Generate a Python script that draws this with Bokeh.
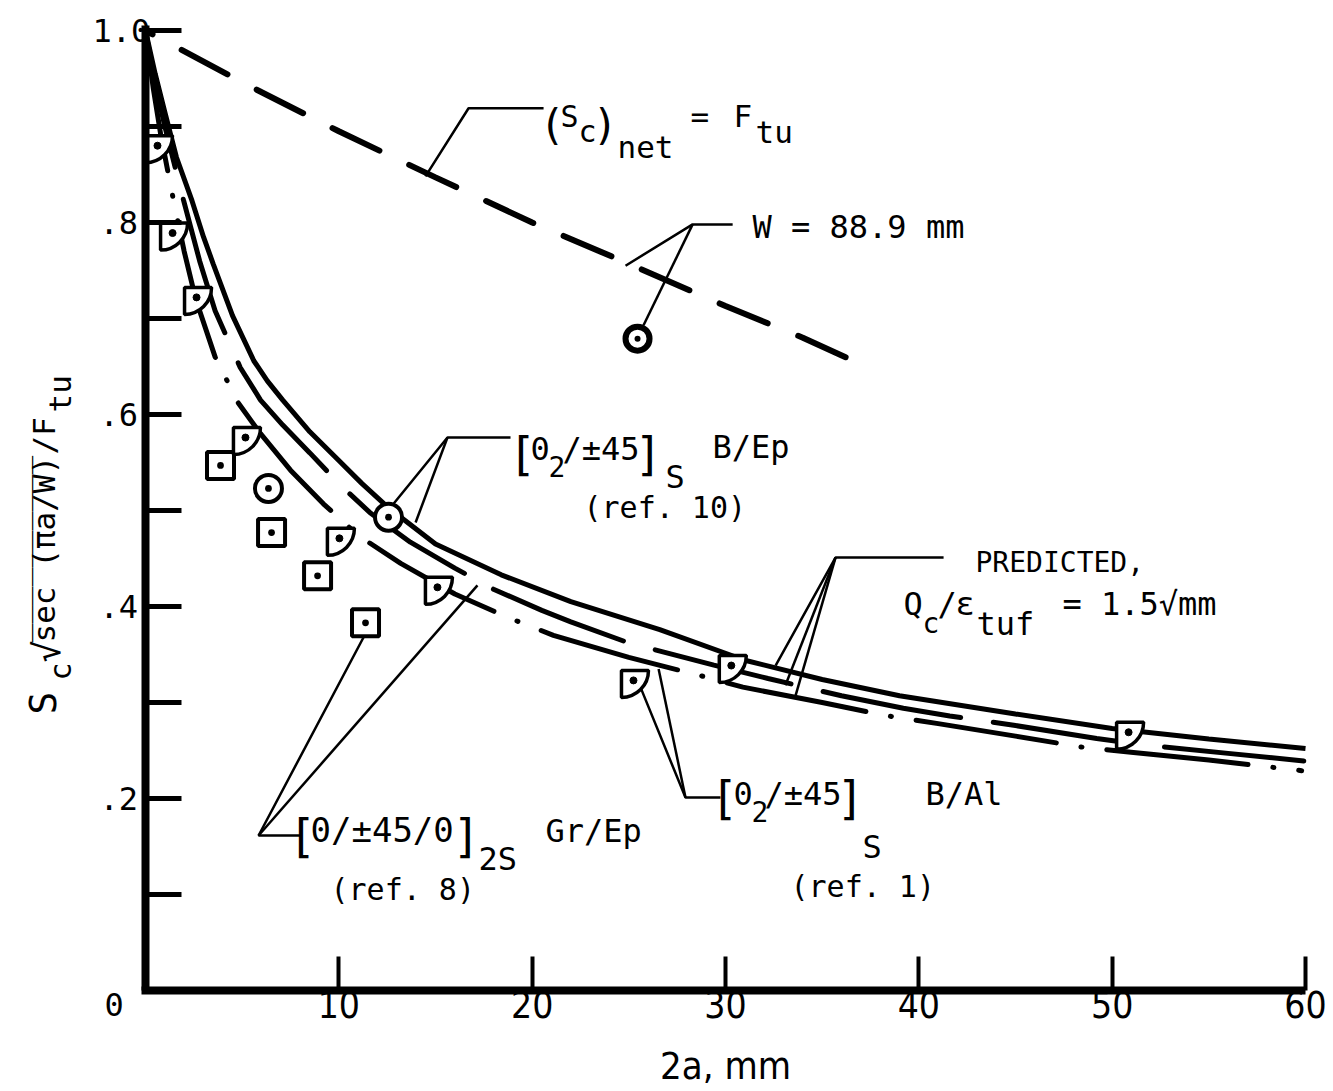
from math import pi
from bokeh.plotting import figure
from bokeh.models import Range1d, FixedTicker, Label, ColumnDataSource
from bokeh.transform import dodge
from bokeh.embed import file_html
from bokeh.resources import INLINE

# ---------------- data ----------------
# net-section line (S_c)net = F_tu, W = 88.9 mm
net_x = [0, 5, 10, 15, 20, 25, 30, 34, 37.6]
net_y = [1.0, 0.946, 0.895, 0.847, 0.800, 0.757, 0.713, 0.680, 0.647]

# predicted curves, Qc/eps_tuf = 1.5 sqrt(mm)
solid_x = [0, 0.5, 1.0, 1.6, 2.4, 3.0, 3.5, 4.5, 5.6, 6.3, 7.1, 8.5, 10, 11.2, 12.5, 15, 18.4, 22, 26.6,
           31, 35, 39, 45, 50, 55, 60]
solid_y = [1.0, 0.955, 0.915, 0.868, 0.823, 0.785, 0.757, 0.703, 0.656, 0.635, 0.615, 0.582, 0.552, 0.528,
           0.504, 0.465, 0.433, 0.405, 0.376, 0.344, 0.324, 0.307, 0.288, 0.273, 0.262, 0.252]
long_x = [0, 0.5, 1.0, 1.97, 2.8, 3.6, 4.9, 5.95, 7.1, 8.5, 10, 11.6, 13.7, 16, 18, 20.5, 22, 25, 29.4,
          32.2, 36, 39.2, 41.6, 45, 49.2, 52, 56, 60]
long_y = [1.0, 0.945, 0.900, 0.823, 0.760, 0.708, 0.649, 0.615, 0.589, 0.560, 0.528, 0.498, 0.467, 0.440,
          0.418, 0.396, 0.384, 0.362, 0.339, 0.325, 0.307, 0.294, 0.286, 0.276, 0.2625, 0.255, 0.247, 0.239]
dd_x = [0, 0.4, 0.8, 1.45, 2.0, 2.6, 3.6, 4.8, 5.95, 7.5, 9.2, 11, 13.2, 16, 18.7, 21.1, 25, 28.7, 30.9,
        35, 38.4, 41, 45, 48.6, 51.1, 55, 59.8]
dd_y = [1.0, 0.940, 0.890, 0.823, 0.770, 0.720, 0.660, 0.612, 0.580, 0.542, 0.507, 0.474, 0.445, 0.413,
        0.389, 0.370, 0.347, 0.328, 0.316, 0.300, 0.286, 0.278, 0.265, 0.253, 0.248, 0.240, 0.229]

# test data
bep_x = [6.36, 12.57]            # [0_2/+-45]_S B/Ep (ref. 10)
bep_y = [0.523, 0.493]
w_x = [25.45]                    # W = 88.9 mm
w_y = [0.679]
grep_x = [3.88, 6.52, 8.90, 11.38]   # [0/+-45/0]_2S Gr/Ep (ref. 8)
grep_y = [0.547, 0.477, 0.432, 0.383]
bal_x = [0.62, 1.40, 2.64, 5.17, 10.03, 15.10, 25.24, 30.30, 50.85]   # [0_2/+-45]_S B/Al (ref. 1)
bal_y = [0.880, 0.789, 0.722, 0.576, 0.471, 0.420, 0.323, 0.3385, 0.269]

# call-out leader lines (data coordinates)
lead_net_x = [14.48, 16.71, 20.59]
lead_net_y = [0.848, 0.919, 0.919]
lead_w_x = [[24.83, 28.30, 30.37], [28.30, 25.76]]
lead_w_y = [[0.755, 0.798, 0.798], [0.798, 0.693]]
lead_bep_x = [[12.83, 15.62, 18.88], [15.62, 13.97]]
lead_bep_y = [[0.507, 0.576, 0.576], [0.576, 0.4875]]
lead_gr_x = [[11.28, 5.85, 8.02], [5.85, 17.17]]
lead_gr_y = [[0.368, 0.1615, 0.1615], [0.1615, 0.422]]
lead_bal_x = [[25.60, 27.93, 29.74], [27.93, 26.54]]
lead_bal_y = [[0.316, 0.201, 0.201], [0.201, 0.335]]
lead_pr_x = [[32.59, 35.69, 41.28], [35.69, 33.10], [35.69, 33.62]]
lead_pr_y = [[0.3385, 0.451, 0.451], [0.451, 0.318], [0.451, 0.307]]

x_ticks = [10, 20, 30, 40, 50, 60]
y_ticks = [0.1, 0.2, 0.3, 0.4, 0.5, 0.6, 0.7, 0.8, 0.9, 1.0]
y_tick_values = [1.0, 0.8, 0.6, 0.4, 0.2, 0.0]
y_tick_texts = ["1.0", ".8", ".6", ".4", ".2", "0"]

# ---------------- figure (frame = whole page, axes placed at x=0 / y=0) ----------------
W, H = 1333, 1091
FL, FT, FW, FH = 145, 30, 1160, 960          # pixel box of the 0..60 x 0..1 data area
XMIN, XMAX = 0.0, 60.0
YMIN, YMAX = 0.0, 1.0
sx = (XMAX - XMIN) / FW
sy = (YMAX - YMIN) / FH
MONO = "DejaVu Sans Mono"
COND = "DejaVu Sans Condensed"

p = figure(width=W, height=H,
           x_range=Range1d(XMIN - FL * sx, XMIN + (W - FL) * sx),
           y_range=Range1d(YMIN - (H - FT - FH) * sy, YMAX + FT * sy),
           output_backend="svg", toolbar_location=None, min_border=0,
           background_fill_color="white", border_fill_color="white", outline_line_color=None)
p.grid.visible = False

xa = p.xaxis[0]
xa.fixed_location = 0
xa.bounds = (-0.2, 60)
xa.ticker = FixedTicker(ticks=x_ticks)
xa.axis_line_width = 8
xa.axis_line_color = "black"
xa.major_tick_in = 34
xa.major_tick_out = 0
xa.major_tick_line_width = 4
xa.minor_tick_line_color = None
xa.major_label_text_font = COND
xa.major_label_text_font_size = "37px"
xa.major_label_standoff = 0
xa.major_label_text_color = "black"

# y axis: every tick drawn as a (minor) tick, labels placed separately
ya = p.yaxis[0]
ya.fixed_location = 0
ya.bounds = (0, 1.005)
ya.ticker = FixedTicker(ticks=[], minor_ticks=y_ticks)
ya.axis_line_width = 8
ya.axis_line_color = "black"
ya.major_tick_line_color = None
ya.minor_tick_in = 36
ya.minor_tick_out = 0
ya.minor_tick_line_width = 5
ya.minor_tick_line_color = "black"


def px2x(px):
    return XMIN + (px - FL) * sx


def py2y(py):
    return YMIN + (FT + FH - py) * sy


def lab(text, px, py, size, font=MONO, angle=0.0, align="left"):
    # px, py: start point of the text on its baseline (page pixels)
    off = 0.36 * size
    if angle == 0.0:
        py -= off
    else:
        px -= off
    p.add_layout(Label(x=px2x(px), y=py2y(py), text=text, text_font=font,
                       text_font_size=f"{size}px", text_align=align,
                       text_baseline="alphabetic", angle=angle, text_color="black"))


# ---------------- curves ----------------
p.line(net_x, net_y, line_width=6, line_color="black", line_dash="52 33",
       line_dash_offset=44, line_cap="round")
p.line(solid_x, solid_y, line_width=5, line_color="black")
p.line(long_x, long_y, line_width=5, line_color="black", line_dash="140 33", line_cap="round")
p.line(dd_x, dd_y, line_width=5, line_color="black", line_dash="142 25 1 25", line_cap="round")

# ---------------- leaders ----------------
p.line(lead_net_x, lead_net_y, line_width=2.5, line_color="black")
p.multi_line(lead_w_x, lead_w_y, line_width=2.5, line_color="black")
p.multi_line(lead_bep_x, lead_bep_y, line_width=2.5, line_color="black")
p.multi_line(lead_gr_x, lead_gr_y, line_width=2.5, line_color="black")
p.multi_line(lead_bal_x, lead_bal_y, line_width=2.5, line_color="black")
p.multi_line(lead_pr_x, lead_pr_y, line_width=2.5, line_color="black")

# ---------------- symbols ----------------
p.scatter(bep_x, bep_y, marker="circle_dot", size=27, line_width=4, line_color="black",
          fill_color="white")
p.scatter(w_x, w_y, marker="circle_dot", size=24, line_width=6, line_color="black",
          fill_color="white")
p.scatter(grep_x, grep_y, marker="square_dot", size=27, line_width=4, line_color="black",
          fill_color="white")
bal_src = ColumnDataSource(dict(x=bal_x, y=bal_y))
p.wedge(x=dodge("x", -12 * sx, range=p.x_range), y=dodge("y", 10 * sy, range=p.y_range),
        radius=27, radius_units="screen", start_angle=-pi / 2, end_angle=0, direction="anticlock",
        fill_color="white", line_color="black", line_width=3.5, source=bal_src)
p.scatter("x", "y", source=bal_src, marker="circle", size=7, fill_color="black", line_color="black")

# ---------------- y tick labels / axis titles ----------------
for v, t in zip(y_tick_values, y_tick_texts):
    if v == 0.0:
        lab(t, 104, 1016, 32)
    else:
        lab(t, 92 if v == 1.0 else 99, (FT + FH - v * FH) + 12, 32)

lab("2a, mm", 725, 1079, 38, font=COND, align="center")

# y axis title (rotated)
R90 = pi / 2
lab("S", 56, 714, 38, angle=R90)
lab("c", 71, 680, 30, angle=R90)
lab("\u221a", 60, 662, 36, angle=R90)
lab("sec (\u03c0a/W)", 55, 642, 31, angle=R90)
lab("\u203e" * 10, 55, 642, 31, angle=R90)
lab("/F", 55, 454, 31, angle=R90)
lab("tu", 71, 412, 31, angle=R90)

# (S_c)net = F_tu
lab("(", 539, 140, 42)
lab("S", 560, 127, 30)
lab("c", 578, 142, 30)
lab(")", 592, 140, 42)
lab("net", 617, 158, 31)
lab("=", 690, 127, 31)
lab("F", 733, 127, 31)
lab("tu", 755, 143, 31)

# W = 88.9 mm
lab("W = 88.9 mm", 752, 238, 32)

# [0_2/+-45]_S B/Ep (ref. 10)
lab("[", 508, 470, 46)
lab("0", 530, 460, 32)
lab("2", 548, 476, 28)
lab("/\u00b145", 562, 460, 32)
lab("]", 634, 470, 46)
lab("S", 665, 488, 32)
lab("B/Ep", 712, 458, 32)
lab("(ref. 10)", 583, 518, 30)

# [0/+-45/0]_2S Gr/Ep (ref. 8)
lab("[", 288, 852, 46)
lab("0/\u00b145/0", 310, 842, 34)
lab("]", 452, 852, 46)
lab("2S", 478, 870, 32)
lab("Gr/Ep", 545, 842, 32)
lab("(ref. 8)", 330, 900, 30)

# [0_2/+-45]_S B/Al (ref. 1)
lab("[", 710, 814, 46)
lab("0", 733, 805, 32)
lab("2", 751, 821, 28)
lab("/\u00b145", 764, 805, 32)
lab("]", 836, 814, 46)
lab("S", 862, 858, 32)
lab("B/Al", 925, 805, 32)
lab("(ref. 1)", 790, 897, 30)

# PREDICTED, Qc/eps_tuf = 1.5 sqrt(mm)
lab("PREDICTED,", 975, 572, 28)
lab("Q", 903, 615, 32)
lab("c", 922, 633, 28)
lab("/", 937, 615, 32)
lab("\u03b5", 955, 615, 32)
lab("tuf", 976, 635, 32)
lab("= 1.5\u221amm", 1062, 615, 32)

open("out.html", "w").write(file_html(p, INLINE))
